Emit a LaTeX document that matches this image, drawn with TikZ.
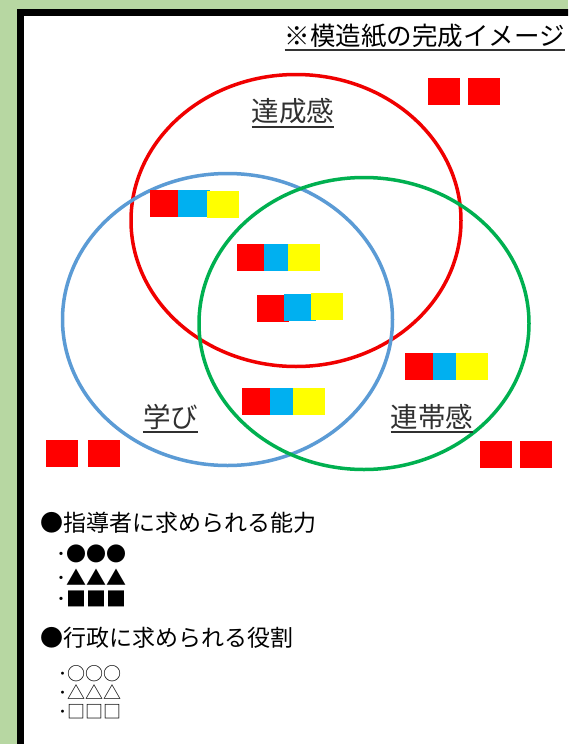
\documentclass[tikz,border=0pt]{standalone}
\usepackage{fontspec}
\newfontfamily\jp{Noto Sans CJK JP}
\usetikzlibrary{shapes.geometric}
\definecolor{bggreen}{HTML}{B7D7A2}
\definecolor{cred}{HTML}{FF0000}
\definecolor{cblue}{HTML}{00B0F0}
\definecolor{cyel}{HTML}{FFFF00}
\definecolor{ringred}{HTML}{F00000}
\definecolor{ringblue}{HTML}{5B9BD5}
\definecolor{ringgreen}{HTML}{00B050}
\definecolor{labgray}{HTML}{303030}
\tikzset{
  ring/.style={ellipse, draw=#1, line width=3.5pt, inner sep=0pt, minimum width=330pt, minimum height=292pt},
  tile/.style={rectangle, fill=#1, draw=none, inner sep=0pt, minimum height=27pt},
  lbl/.style={inner sep=0pt, anchor=base, text=labgray, font=\jp\fontsize{27.5}{30}\selectfont},
  ttl/.style={inner sep=0pt, anchor=base east, text=black, font=\jp\fontsize{25.5}{28}\selectfont},
  head/.style={inner sep=0pt, anchor=base west, text=black, font=\jp\fontsize{23}{26}\selectfont},
  item/.style={inner sep=0pt, anchor=base west, text=black, font=\jp\fontsize{20}{22}\selectfont},
  oitem/.style={inner sep=0pt, anchor=base west, text=black, font=\jp\fontsize{18}{20}\selectfont},
  uline/.style={draw=labgray, line width=1.5pt}
}
\begin{document}
\begin{tikzpicture}[x=1pt,y=-1pt]
\useasboundingbox (0,0) rectangle (568,744);
\clip (0,0) rectangle (568,744);
\fill[bggreen] (0,0) rectangle (568,744);
\draw[line width=7pt, fill=white] (20.5,12) rectangle (620,800);

% rings
\node[ring=ringred]   (cA) at (296,220.5) {};
\node[ring=ringblue]  (cL) at (227.5,319.5) {};
\node[ring=ringgreen] (cC) at (364,323.5) {};

% lone red tiles
\node[tile=cred, minimum width=32pt] (tr1) at (444,91) {};
\node[tile=cred, minimum width=32pt] (tr2) at (484,91) {};
\node[tile=cred, minimum width=32pt] (bl1) at (62,453.5) {};
\node[tile=cred, minimum width=32pt] (bl2) at (104,453.5) {};
\node[tile=cred, minimum width=32pt] (br1) at (496,454.5) {};
\node[tile=cred, minimum width=32pt] (br2) at (536,454.5) {};

% group A
\node[tile=cred,  minimum width=28pt] (a1) at (164,203.5) {};
\node[tile=cblue, minimum width=32pt] (a2) at (194,203.5) {};
\node[tile=cyel,  minimum width=32pt] (a3) at (223,204.5) {};
% group B
\node[tile=cred,  minimum width=27pt] (b1) at (250.5,257.5) {};
\node[tile=cblue, minimum width=24pt] (b2) at (276,257.5) {};
\node[tile=cyel,  minimum width=32pt] (b3) at (304,257.5) {};
% group C
\node[tile=cred,  minimum width=32pt] (c1) at (273,308.5) {};
\node[tile=cblue, minimum width=32pt] (c2) at (300,307.5) {};
\node[tile=cyel,  minimum width=32pt] (c3) at (327,306.5) {};
% group D
\node[tile=cred,  minimum width=28pt] (d1) at (419,366.5) {};
\node[tile=cblue, minimum width=23pt] (d2) at (444.5,366.5) {};
\node[tile=cyel,  minimum width=32pt] (d3) at (472,366.5) {};
% group E
\node[tile=cred,  minimum width=28pt] (e1) at (256,401.5) {};
\node[tile=cblue, minimum width=23pt] (e2) at (281.5,401.5) {};
\node[tile=cyel,  minimum width=32pt] (e3) at (309,401.5) {};

% title
\node[ttl] (title) at (565,45) {※模造紙の完成イメージ};
\draw[draw=black!80, line width=1.5pt] ([yshift=-5pt]title.base west) -- ([yshift=-5pt]title.base east);

% ring labels
\node[lbl] (l1) at (293,121) {達成感};
\node[lbl] (l2) at (170.5,427) {学び};
\node[lbl] (l3) at (432,427) {連帯感};
\draw[uline] ([yshift=-6pt]l1.base west) -- ([yshift=-6pt]l1.base east);
\draw[uline] ([yshift=-5pt]l2.base west) -- ([yshift=-5pt]l2.base east);
\draw[uline] ([yshift=-5pt]l3.base west) -- ([yshift=-5pt]l3.base east);

% lists
\node[head] (h1) at (40,531) {●指導者に求められる能力};
\node[item] (i1) at (56,561) {･●●●};
\node[item] (i2) at (56,585) {･▲▲▲};
\node[item] (i3) at (56,606) {･■■■};
\node[head] (h2) at (40,646) {●行政に求められる役割};
\node[oitem] (j1) at (58,680) {･○○○};
\node[oitem] (j2) at (58,699) {･△△△};
\node[oitem] (j3) at (58,718) {･□□□};
\end{tikzpicture}
\end{document}
